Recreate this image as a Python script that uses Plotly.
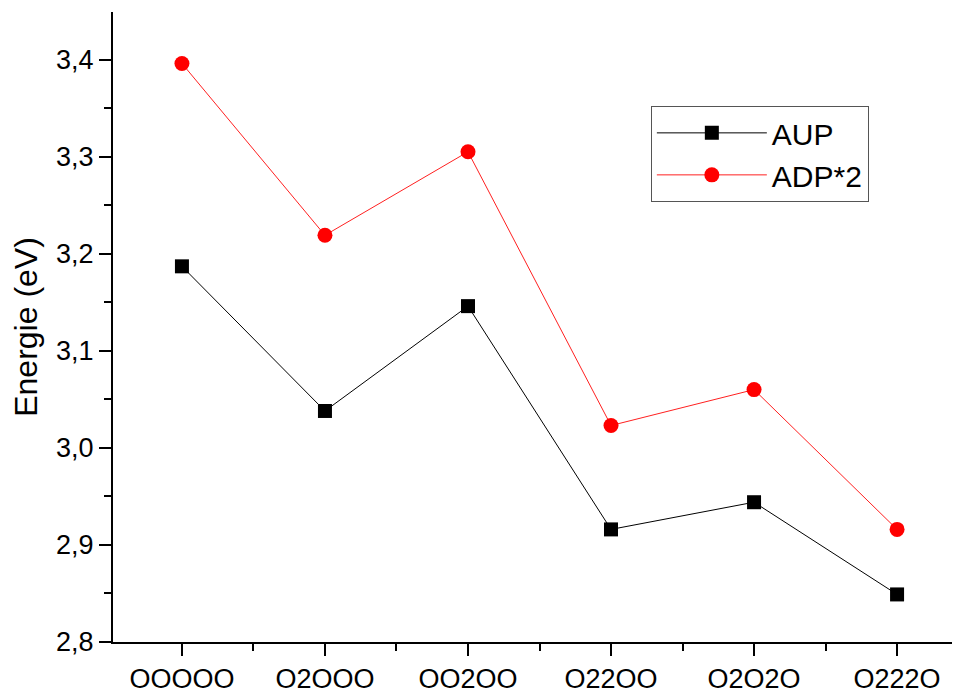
import plotly.graph_objects as go

categories = ["OOOOO", "O2OOO", "OO2OO", "O22OO", "O2O2O", "O222O"]
aup = [3.187, 3.038, 3.146, 2.916, 2.944, 2.849]
adp2 = [3.396, 3.219, 3.305, 3.023, 3.060, 2.916]
y_ticks = [2.8, 2.9, 3.0, 3.1, 3.2, 3.3, 3.4]

xpos = list(range(len(categories)))
FONT = "Liberation Sans, Arial, sans-serif"

fig = go.Figure()
fig.add_trace(go.Scatter(x=xpos, y=aup, name="AUP", mode="lines+markers",
                         line=dict(color="black", width=1),
                         marker=dict(symbol="square", size=14, color="black")))
fig.add_trace(go.Scatter(x=xpos, y=adp2, name="ADP*2", mode="lines+markers",
                         line=dict(color="#ff2020", width=1),
                         marker=dict(symbol="circle", size=15, color="#ff0000")))

# page body has an 8px margin, so the figure is offset by (8, 8)
fig.update_layout(
    width=952, height=686,
    margin=dict(l=105, r=0, t=4, b=46),
    plot_bgcolor="white", paper_bgcolor="white",
    separators=",.",
    font=dict(family=FONT, size=27, color="black"),
    showlegend=True,
    legend=dict(x=0.635, y=0.851, xanchor="left", yanchor="top",
                bordercolor="#555555", borderwidth=1, bgcolor="white",
                font=dict(size=30), tracegroupgap=0, itemwidth=110),
    xaxis=dict(range=[-0.482, 5.44], tickvals=xpos, ticktext=categories,
               showgrid=False, zeroline=False, showline=True, linecolor="black",
               linewidth=2, ticks="outside", ticklen=12, tickwidth=2,
               tickcolor="black", tickfont=dict(size=27),
               minor=dict(tick0=0.5, dtick=1, ticks="outside", ticklen=7,
                          tickwidth=2, tickcolor="black", showgrid=False)),
    yaxis=dict(range=[2.8, 3.449], tickvals=y_ticks, tickformat=".1f",
               showgrid=False, zeroline=False, showline=True, linecolor="black",
               linewidth=2, ticks="outside", ticklen=12, tickwidth=2,
               tickcolor="black", tickfont=dict(size=27),
               title=dict(text="Energie (eV)", font=dict(size=32), standoff=12),
               minor=dict(tick0=2.85, dtick=0.1, ticks="outside", ticklen=7,
                          tickwidth=2, tickcolor="black", showgrid=False)),
)

fig.write_html("out.html")
